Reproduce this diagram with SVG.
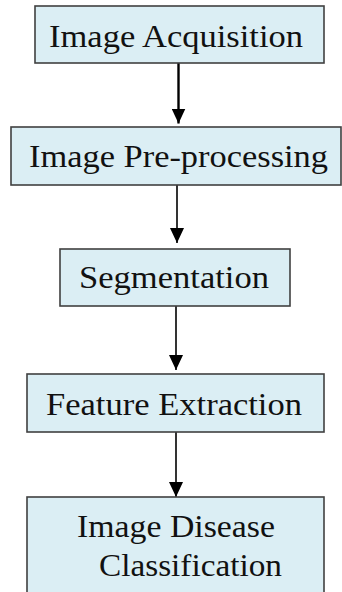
<svg xmlns="http://www.w3.org/2000/svg" width="342" height="592" viewBox="0 0 342 592">
<defs>
<marker id="ah" markerWidth="15" markerHeight="14" refX="15" refY="7" orient="auto" markerUnits="userSpaceOnUse" viewBox="0 0 15 14">
<path d="M0,0 L15,7 L0,14 Z" fill="#000"/>
</marker>
<style>
.box{fill:#dbeef4;stroke:#404040;stroke-width:1.6}
.t{font-family:"Liberation Serif","DejaVu Serif",serif;font-size:32px;fill:#111}
.c{stroke:#000;stroke-width:1.6;fill:none}
</style>
</defs>
<rect width="342" height="592" fill="#fff"/>
<g id="connectors">
<line class="c" x1="178.5" y1="63" x2="178.5" y2="123.5" marker-end="url(#ah)" style="stroke-width:2.4"/>
<line class="c" x1="177" y1="185" x2="177" y2="243" marker-end="url(#ah)"/>
<line class="c" x1="176" y1="306" x2="176" y2="370" marker-end="url(#ah)"/>
<line class="c" x1="176" y1="432" x2="176" y2="497" marker-end="url(#ah)"/>
</g>
<g id="n1">
<rect class="box" x="35" y="6" width="289" height="57"/>
<text class="t" x="49" y="46.5" textLength="254" lengthAdjust="spacingAndGlyphs">Image Acquisition</text>
</g>
<g id="n2">
<rect class="box" x="11" y="127" width="330" height="58"/>
<text class="t" x="29" y="167" textLength="299" lengthAdjust="spacingAndGlyphs">Image Pre-processing</text>
</g>
<g id="n3">
<rect class="box" x="60" y="249" width="230" height="57"/>
<text class="t" x="79" y="288" textLength="190" lengthAdjust="spacingAndGlyphs">Segmentation</text>
</g>
<g id="n4">
<rect class="box" x="27" y="374" width="297" height="58"/>
<text class="t" x="46" y="415" textLength="256" lengthAdjust="spacingAndGlyphs">Feature Extraction</text>
</g>
<g id="n5">
<rect class="box" x="27" y="497" width="297" height="100"/>
<text class="t" x="77" y="537" textLength="198" lengthAdjust="spacingAndGlyphs">Image Disease</text>
<text class="t" x="99" y="576" textLength="183" lengthAdjust="spacingAndGlyphs">Classification</text>
</g>
</svg>
